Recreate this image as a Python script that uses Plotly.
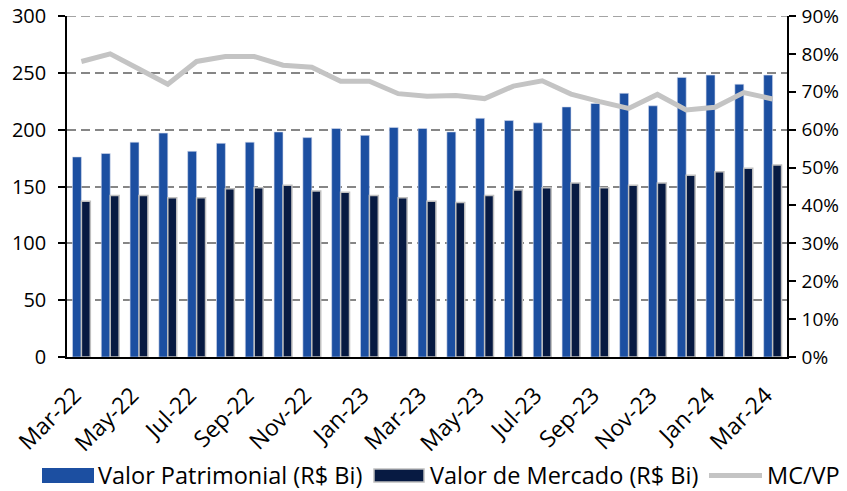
import plotly.graph_objects as go

months = ["Mar-22","Apr-22","May-22","Jun-22","Jul-22","Aug-22","Sep-22","Oct-22","Nov-22","Dec-22",
          "Jan-23","Feb-23","Mar-23","Apr-23","May-23","Jun-23","Jul-23","Aug-23","Sep-23","Oct-23",
          "Nov-23","Dec-23","Jan-24","Feb-24","Mar-24"]
valor_patrimonial = [176,179,189,197,181,188,189,198,193,201,195,202,201,198,210,208,206,220,223,232,221,246,248,240,248]
valor_mercado = [137,142,142,140,140,148,149,151,146,145,142,140,137,136,142,147,149,153,149,151,153,160,163,166,169]
mc_vp = [78,80,76,72,78,79.3,79.3,77,76.5,72.8,72.8,69.5,68.8,69,68.2,71.5,72.9,69.4,67.4,65.6,69.3,65.2,65.9,69.8,68.1]
tick_labels = months[::2]
legend_names = ["Valor Patrimonial (R$ Bi)", "Valor de Mercado (R$ Bi)", "MC/VP"]

FONT = "'Open Sans', Lato, sans-serif"
W, H = 847, 491
L, R, T, B = 67, 787, 16, 357

BLUE = "#1C4FA1"
NAVY = "#071A42"
GREY_LINE = "#C4C4C4"
GRID = "#868686"

fig = go.Figure()
fig.add_trace(go.Bar(x=months, y=valor_patrimonial, name=legend_names[0],
                     marker=dict(color=BLUE, line=dict(color="#D6DEEE", width=0.6))))
fig.add_trace(go.Bar(x=months, y=valor_mercado, name=legend_names[1],
                     marker=dict(color=NAVY, line=dict(color="#BFBFBF", width=1.5))))
fig.add_trace(go.Scatter(x=months, y=mc_vp, name=legend_names[2], yaxis="y2", mode="lines",
                         line=dict(color=GREY_LINE, width=5)))

def px_x(p):
    return (p - L) / (R - L)

def px_y(p):
    return (B - p) / (B - T)

shapes = [
    dict(type="line", xref="paper", yref="y", x0=0, x1=1, y0=300, y1=300,
         line=dict(color=GRID, width=1.5, dash="9px,5px"), layer="below"),
    dict(type="rect", xref="paper", yref="paper", x0=px_x(42), x1=px_x(94), y0=px_y(483), y1=px_y(468),
         fillcolor=BLUE, line=dict(width=0)),
    dict(type="rect", xref="paper", yref="paper", x0=px_x(374), x1=px_x(424), y0=px_y(482), y1=px_y(469),
         fillcolor=NAVY, line=dict(color="#BFBFBF", width=1.5)),
    dict(type="line", xref="paper", yref="paper", x0=px_x(709), x1=px_x(762), y0=px_y(475.5), y1=px_y(475.5),
         line=dict(color=GREY_LINE, width=5)),
]
annotations = []
for name, xp in zip(legend_names, [96, 428, 765]):
    annotations.append(dict(text=name, xref="paper", yref="paper", x=px_x(xp), y=px_y(475),
                            xanchor="left", yanchor="middle", showarrow=False,
                            font=dict(family=FONT, size=23.5, color="black")))

fig.update_layout(
    width=W, height=H,
    margin=dict(l=L, r=W - R, t=T, b=H - B),
    paper_bgcolor="white", plot_bgcolor="white",
    barmode="group", bargap=0.38, bargroupgap=0,
    font=dict(family=FONT, size=19, color="black"),
    showlegend=False,
    shapes=shapes, annotations=annotations,
    xaxis=dict(type="category", tickvals=tick_labels, ticktext=tick_labels, tickangle=-45,
               showline=True, linecolor="black", linewidth=1.5, ticks="",
               ticklabelstandoff=14, ticklabelshift=-7,
               showgrid=False, automargin=False, tickfont=dict(size=23)),
    yaxis=dict(range=[0, 300], dtick=50, showline=True, linecolor="black", linewidth=1.5,
               ticks="outside", ticklen=7, tickcolor="black", tickwidth=1.5,
               ticklabelstandoff=8,
               showgrid=True, gridcolor=GRID, griddash="9px,5px", gridwidth=1.5,
               zeroline=False, automargin=False, tickfont=dict(size=20)),
    yaxis2=dict(range=[0, 90], dtick=10, ticksuffix="%", overlaying="y", side="right",
                showline=True, linecolor="black", linewidth=1.5,
                ticks="outside", ticklen=7, tickcolor="black", tickwidth=1.5,
                ticklabelstandoff=2,
                showgrid=False, zeroline=False, automargin=False, tickfont=dict(size=19)),
)

fig.write_html("out.html", config={"displayModeBar": False},
               post_script="document.body.style.margin='0';")
